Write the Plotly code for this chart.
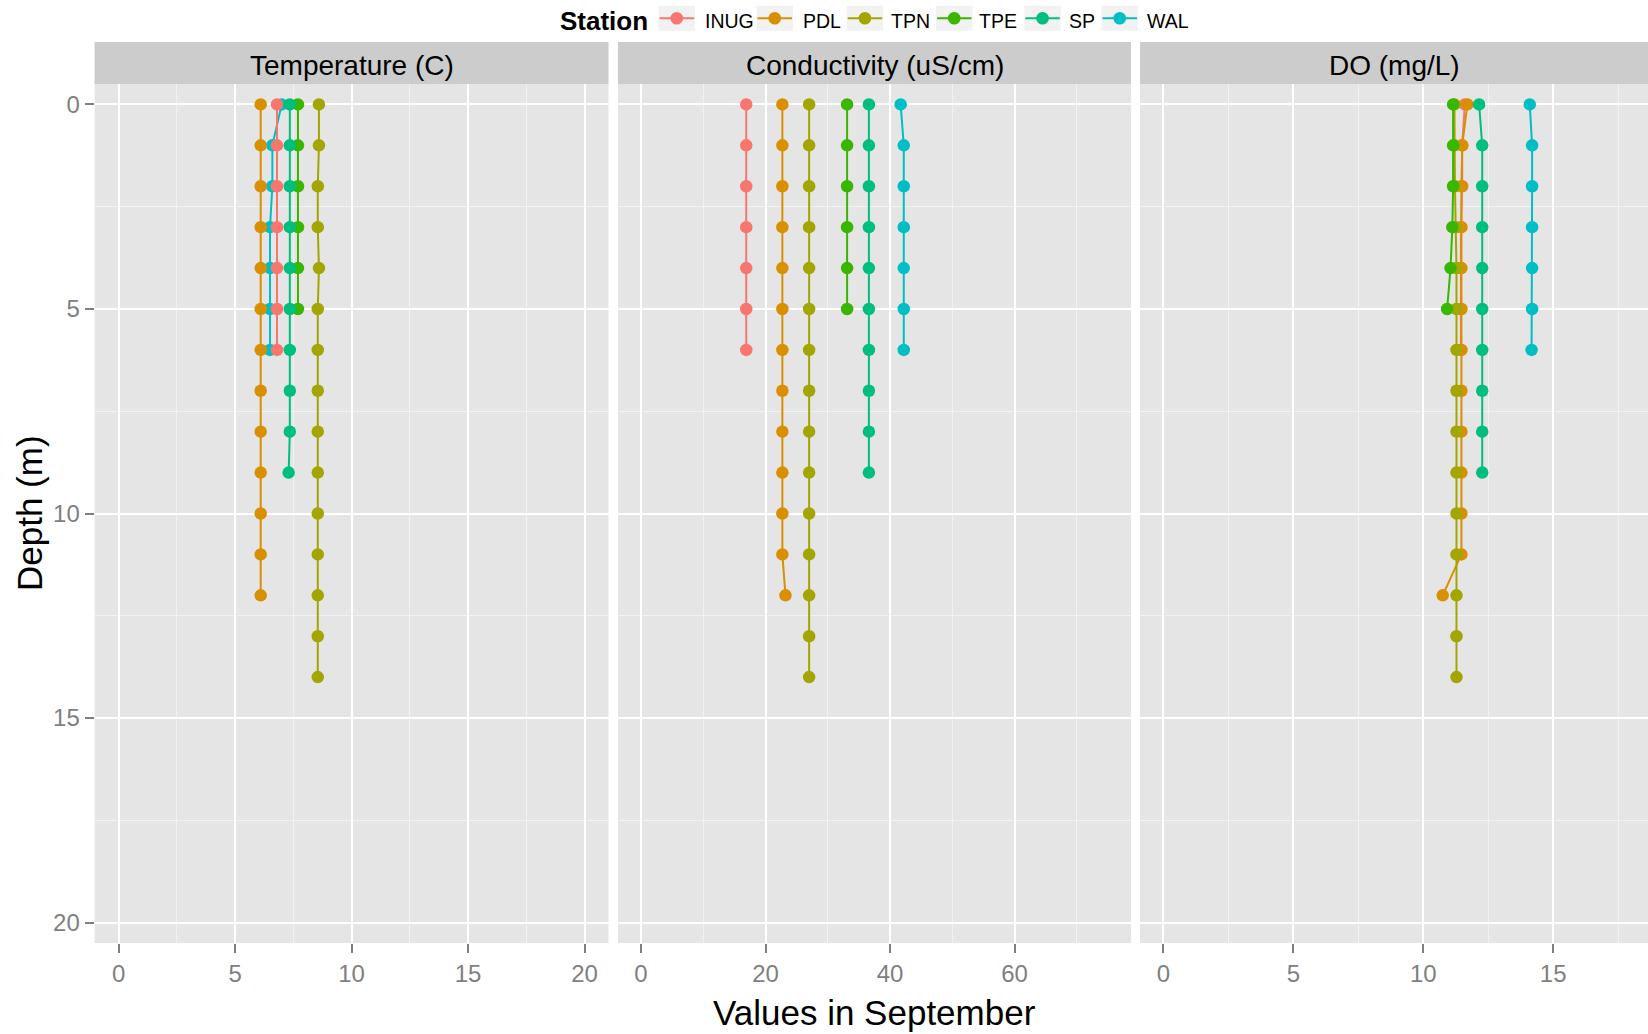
import plotly.graph_objects as go

# ---------------- data ----------------
stations = ["INUG", "PDL", "TPN", "TPE", "SP", "WAL"]
station_colors = ["#F8766D", "#D89000", "#A3A500", "#39B600", "#00BF7D", "#00BFC4"]

depth_INUG = [0, 1, 2, 3, 4, 5, 6]
depth_PDL = [0, 1, 2, 3, 4, 5, 6, 7, 8, 9, 10, 11, 12]
depth_TPN = [0, 1, 2, 3, 4, 5, 6, 7, 8, 9, 10, 11, 12, 13, 14]
depth_TPE = [0, 1, 2, 3, 4, 5]
depth_SP = [0, 1, 2, 3, 4, 5, 6, 7, 8, 9]
depth_WAL = [0, 1, 2, 3, 4, 5, 6]

temp_INUG = [6.8, 6.8, 6.8, 6.8, 6.8, 6.8, 6.8]
temp_PDL = [6.1, 6.1, 6.1, 6.1, 6.1, 6.1, 6.1, 6.1, 6.1, 6.1, 6.1, 6.1, 6.1]
temp_TPN = [8.6, 8.6, 8.55, 8.55, 8.6, 8.55, 8.55, 8.55, 8.55, 8.55, 8.55, 8.55, 8.55, 8.55, 8.55]
temp_TPE = [7.7, 7.7, 7.7, 7.7, 7.7, 7.7]
temp_SP = [7.35, 7.35, 7.35, 7.35, 7.35, 7.35, 7.35, 7.35, 7.35, 7.3]
temp_WAL = [7.0, 6.6, 6.6, 6.5, 6.5, 6.5, 6.5]

cond_INUG = [16.9, 16.9, 16.9, 16.9, 16.9, 16.9, 16.9]
cond_PDL = [22.7, 22.7, 22.7, 22.7, 22.7, 22.7, 22.7, 22.7, 22.7, 22.7, 22.7, 22.7, 23.2]
cond_TPN = [27.0, 27.0, 27.0, 27.0, 27.0, 27.0, 27.0, 27.0, 27.0, 27.0, 27.0, 27.0, 27.0, 27.0, 27.0]
cond_TPE = [33.1, 33.1, 33.1, 33.1, 33.1, 33.1]
cond_SP = [36.6, 36.6, 36.6, 36.6, 36.6, 36.6, 36.6, 36.6, 36.6, 36.6]
cond_WAL = [41.7, 42.2, 42.2, 42.2, 42.2, 42.2, 42.2]

do_INUG = [11.6, 11.5, 11.5, 11.45, 11.45, 11.45, 11.45]
do_PDL = [11.7, 11.5, 11.47, 11.47, 11.47, 11.47, 11.47, 11.47, 11.47, 11.47, 11.47, 11.47, 10.75]
do_TPN = [11.2, 11.2, 11.22, 11.25, 11.28, 11.28, 11.28, 11.28, 11.28, 11.28, 11.28, 11.28, 11.28, 11.28, 11.28]
do_TPE = [11.15, 11.15, 11.15, 11.12, 11.05, 10.92]
do_SP = [12.15, 12.27, 12.27, 12.27, 12.27, 12.27, 12.27, 12.27, 12.27, 12.27]
do_WAL = [14.1, 14.19, 14.19, 14.19, 14.19, 14.19, 14.17]

panel_titles = ["Temperature (C)", "Conductivity (uS/cm)", "DO (mg/L)"]
x_tick_vals = [[0, 5, 10, 15, 20], [0, 20, 40, 60], [0, 5, 10, 15]]
x_minor_vals = [[2.5, 7.5, 12.5, 17.5], [10, 30, 50, 70], [2.5, 7.5, 12.5, 17.5]]
y_tick_vals = [0, 5, 10, 15, 20]
y_minor_vals = [2.5, 7.5, 12.5, 17.5]

depths = [depth_INUG, depth_PDL, depth_TPN, depth_TPE, depth_SP, depth_WAL]
panels = [
    [temp_INUG, temp_PDL, temp_TPN, temp_TPE, temp_SP, temp_WAL],
    [cond_INUG, cond_PDL, cond_TPN, cond_TPE, cond_SP, cond_WAL],
    [do_INUG, do_PDL, do_TPN, do_TPE, do_SP, do_WAL],
]

# ---------------- layout geometry ----------------
W, H = 1648, 1034
FONT = "Liberation Sans, Arial, Helvetica, sans-serif"
x_domains = [[94.6 / W, 608.5 / W], [618 / W, 1131 / W], [1140 / W, 1.0]]
x_ranges = [[-1.03, 21.03], [-3.7, 78.7], [-0.9, 18.65]]
y_dom = [(H - 943) / H, (H - 84) / H]
strip_top = (H - 42) / H


def py(px_from_top):
    return (H - px_from_top) / H


fig = go.Figure()

draw_order = [5, 0, 1, 2, 3, 4]
for p in range(3):
    xa = "x" if p == 0 else f"x{p+1}"
    ya = "y" if p == 0 else f"y{p+1}"
    for i in draw_order:
        fig.add_trace(go.Scatter(
            x=panels[p][i], y=depths[i], mode="lines+markers",
            name=stations[i], legendgroup=stations[i], showlegend=False,
            line=dict(color=station_colors[i], width=2),
            marker=dict(color=station_colors[i], size=12.5),
            xaxis=xa, yaxis=ya,
        ))

tick_font = dict(family=FONT, size=24, color="#7F7F7F")
layout = dict(
    width=W, height=H, autosize=False,
    margin=dict(l=0, r=0, t=0, b=0),
    paper_bgcolor="white", plot_bgcolor="#E5E5E5",
    font=dict(family=FONT),
    showlegend=False,
)
for p in range(3):
    sx = "" if p == 0 else str(p + 1)
    layout["xaxis" + sx] = dict(
        domain=x_domains[p], range=x_ranges[p], anchor="y" + sx,
        tickvals=x_tick_vals[p], ticks="outside", ticklen=9, tickwidth=1.5, tickcolor="#7F7F7F",
        tickfont=tick_font, showgrid=True, gridcolor="white", gridwidth=1.6,
        zeroline=False, showline=False,
        minor=dict(tickvals=x_minor_vals[p], showgrid=True, gridcolor="#F2F2F2", gridwidth=1, ticks=""),
    )
    layout["yaxis" + sx] = dict(
        domain=y_dom, range=[20.5, -0.5], anchor="x" + sx,
        tickvals=y_tick_vals, ticks="outside" if p == 0 else "", ticklen=9, tickwidth=1.5,
        tickcolor="#7F7F7F", showticklabels=(p == 0),
        tickfont=tick_font, showgrid=True, gridcolor="white", gridwidth=1.6,
        zeroline=False, showline=False,
        minor=dict(tickvals=y_minor_vals, showgrid=True, gridcolor="#F2F2F2", gridwidth=1, ticks=""),
    )
fig.update_layout(**layout)

shapes = []
annotations = []
for p in range(3):
    shapes.append(dict(type="rect", xref="paper", yref="paper",
                       x0=x_domains[p][0], x1=x_domains[p][1], y0=y_dom[1], y1=strip_top,
                       fillcolor="#CCCCCC", line=dict(width=0), layer="below"))
    annotations.append(dict(text=panel_titles[p], xref="paper", yref="paper",
                            x=(x_domains[p][0] + x_domains[p][1]) / 2, y=py(65.5),
                            xanchor="center", yanchor="middle", showarrow=False,
                            font=dict(family=FONT, size=28, color="black")))
annotations.append(dict(text="Values in September", xref="paper", yref="paper",
                        x=874 / W, y=py(1012), xanchor="center", yanchor="middle",
                        showarrow=False, font=dict(family=FONT, size=35, color="black")))
annotations.append(dict(text="Depth (m)", xref="paper", yref="paper", textangle=-90,
                        x=29.5 / W, y=py(513.5), xanchor="center", yanchor="middle",
                        showarrow=False, font=dict(family=FONT, size=35, color="black")))

# ---------------- legend (ggplot style, drawn by hand) ----------------
legend_key_left = [658.5, 756.5, 846.7, 936.0, 1024.3, 1101.5]
legend_text_left = [702.7, 800.7, 889.3, 977.3, 1067.3, 1145.0]
key_w, key_top, key_bot, key_mid = 36.5, 5.7, 30.7, 18.2
annotations.append(dict(text="<b>Station</b>", xref="paper", yref="paper",
                        x=558 / W, y=py(20.8), xanchor="left", yanchor="middle",
                        showarrow=False, font=dict(family=FONT, size=26, color="black")))
for i, name in enumerate(stations):
    kx0 = legend_key_left[i] / W
    kx1 = (legend_key_left[i] + key_w) / W
    kxc = (kx0 + kx1) / 2
    shapes.append(dict(type="rect", xref="paper", yref="paper", x0=kx0, x1=kx1,
                       y0=py(key_bot), y1=py(key_top), fillcolor="#F2F2F2",
                       line=dict(width=0), layer="above"))
    shapes.append(dict(type="line", xref="paper", yref="paper", x0=kx0 + 1 / W, x1=kx1 - 1 / W,
                       y0=py(key_mid), y1=py(key_mid),
                       line=dict(color=station_colors[i], width=2), layer="above"))
    shapes.append(dict(type="circle", xref="paper", yref="paper",
                       xsizemode="pixel", ysizemode="pixel", xanchor=kxc, yanchor=py(key_mid),
                       x0=-6.3, x1=6.3, y0=-6.3, y1=6.3,
                       fillcolor=station_colors[i], line=dict(width=0), layer="above"))
    annotations.append(dict(text=name, xref="paper", yref="paper",
                            x=legend_text_left[i] / W, y=py(21.3), xanchor="left", yanchor="middle",
                            showarrow=False, font=dict(family=FONT, size=19.5, color="black")))
fig.update_layout(shapes=shapes, annotations=annotations)

fig.write_html("out.html")
